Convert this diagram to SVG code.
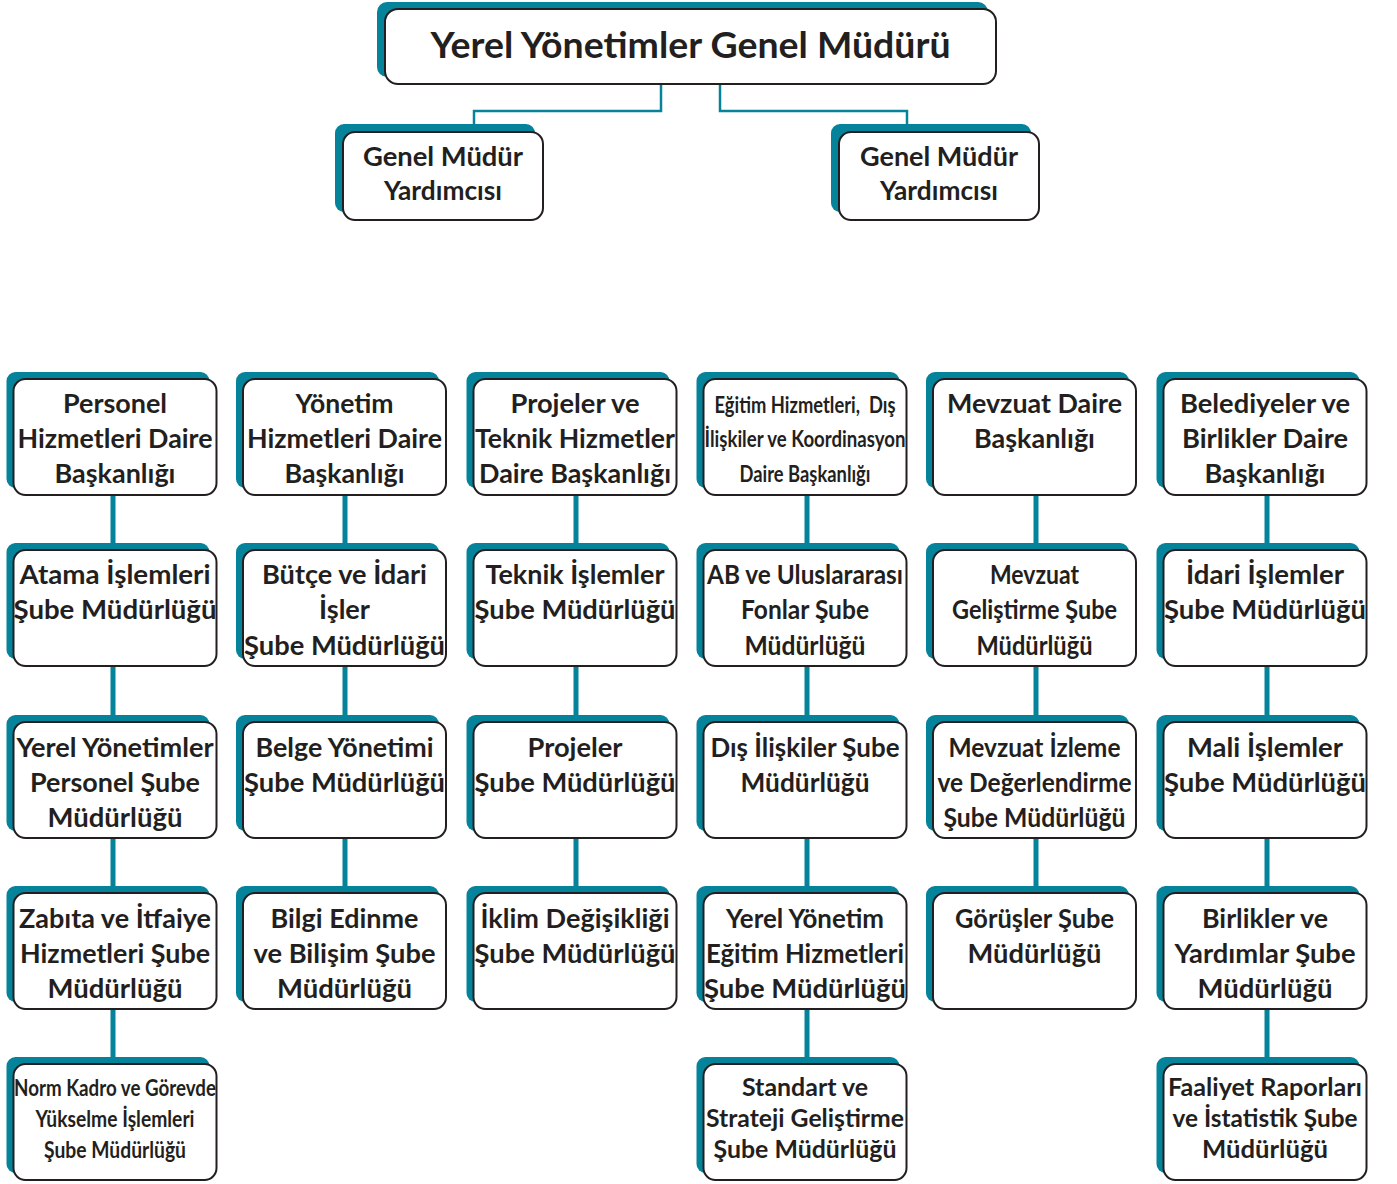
<svg xmlns="http://www.w3.org/2000/svg" width="1397" height="1184" viewBox="0 0 1397 1184">
<style>
.sh{fill:#05839b}
.bx{fill:#fff;stroke:#231f20;stroke-width:2}
.t{font-family:Lato,"Open Sans","Noto Sans",sans-serif;font-weight:bold;font-size:26px;fill:#231f20;text-anchor:middle}
.s{font-size:24px}
.c{font-size:23px}
.ttl{font-size:36px}
.thin{fill:none;stroke:#05839b;stroke-width:2.5}
.thick{fill:none;stroke:#05839b;stroke-width:5}
</style>
<rect width="1397" height="1184" fill="#fff"/>
<g id="connectors">
<path class="thin" d="M661,83 V111 H474 V126"/>
<path class="thin" d="M720,83 V111 H907 V126"/>
<path class="thick" d="M113,490 V1060"/>
<path class="thick" d="M345,490 V890"/>
<path class="thick" d="M576,490 V890"/>
<path class="thick" d="M807,490 V1060"/>
<path class="thick" d="M1036,490 V890"/>
<path class="thick" d="M1267,490 V1060"/>
</g>
<g id="genel-mudur">
<rect class="sh" x="377" y="2" width="611" height="75" rx="10"/>
<rect class="bx" x="385" y="9" width="611" height="75" rx="13"/>
<text class="t ttl" x="690.5" y="58" textLength="520" lengthAdjust="spacingAndGlyphs">Yerel Yönetimler Genel Müdürü</text>
</g>
<g id="gmy-1">
<rect class="sh" x="335" y="124" width="200" height="88" rx="9"/>
<rect class="bx" x="343" y="132" width="200" height="88" rx="12"/>
<text class="t" x="443" y="166" textLength="160" lengthAdjust="spacingAndGlyphs">Genel Müdür</text>
<text class="t" x="443" y="200" textLength="118" lengthAdjust="spacingAndGlyphs">Yardımcısı</text>
</g>
<g id="gmy-2">
<rect class="sh" x="831" y="124" width="200" height="88" rx="9"/>
<rect class="bx" x="839" y="132" width="200" height="88" rx="12"/>
<text class="t" x="939" y="166" textLength="158" lengthAdjust="spacingAndGlyphs">Genel Müdür</text>
<text class="t" x="939" y="200" textLength="118" lengthAdjust="spacingAndGlyphs">Yardımcısı</text>
</g>

<!-- Column 1 -->
<g id="c1r1"><rect class="sh" x="6.5" y="372" width="203" height="116" rx="9"/><rect class="bx" x="13.5" y="379" width="203" height="116" rx="12"/>
<text class="t" x="115" y="413" textLength="104" lengthAdjust="spacingAndGlyphs">Personel</text>
<text class="t" x="115" y="448" textLength="195" lengthAdjust="spacingAndGlyphs">Hizmetleri Daire</text>
<text class="t" x="115" y="483" textLength="121" lengthAdjust="spacingAndGlyphs">Başkanlığı</text></g>
<g id="c1r2"><rect class="sh" x="6.5" y="543" width="203" height="116" rx="9"/><rect class="bx" x="13.5" y="550" width="203" height="116" rx="12"/>
<text class="t" x="115" y="584" textLength="191" lengthAdjust="spacingAndGlyphs">Atama İşlemleri</text>
<text class="t" x="115" y="619" textLength="203" lengthAdjust="spacingAndGlyphs">Şube Müdürlüğü</text></g>
<g id="c1r3"><rect class="sh" x="6.5" y="715" width="203" height="116" rx="9"/><rect class="bx" x="13.5" y="722" width="203" height="116" rx="12"/>
<text class="t" x="115" y="757" textLength="197" lengthAdjust="spacingAndGlyphs">Yerel Yönetimler</text>
<text class="t" x="115" y="792" textLength="170" lengthAdjust="spacingAndGlyphs">Personel Şube</text>
<text class="t" x="115" y="827" textLength="135" lengthAdjust="spacingAndGlyphs">Müdürlüğü</text></g>
<g id="c1r4"><rect class="sh" x="6.5" y="886" width="203" height="116" rx="9"/><rect class="bx" x="13.5" y="893" width="203" height="116" rx="12"/>
<text class="t" x="115" y="928" textLength="192" lengthAdjust="spacingAndGlyphs">Zabıta ve İtfaiye</text>
<text class="t" x="115" y="963" textLength="190" lengthAdjust="spacingAndGlyphs">Hizmetleri Şube</text>
<text class="t" x="115" y="998" textLength="135" lengthAdjust="spacingAndGlyphs">Müdürlüğü</text></g>
<g id="c1r5"><rect class="sh" x="6.5" y="1057" width="203" height="116" rx="9"/><rect class="bx" x="13.5" y="1064" width="203" height="116" rx="12"/>
<text class="t c" x="115" y="1096" textLength="202" lengthAdjust="spacingAndGlyphs">Norm Kadro ve Görevde</text>
<text class="t c" x="115" y="1127" textLength="159" lengthAdjust="spacingAndGlyphs">Yükselme İşlemleri</text>
<text class="t c" x="115" y="1158" textLength="142" lengthAdjust="spacingAndGlyphs">Şube Müdürlüğü</text></g>

<!-- Column 2 -->
<g id="c2r1"><rect class="sh" x="236" y="372" width="203" height="116" rx="9"/><rect class="bx" x="243" y="379" width="203" height="116" rx="12"/>
<text class="t" x="344.5" y="413" textLength="98" lengthAdjust="spacingAndGlyphs">Yönetim</text>
<text class="t" x="344.5" y="448" textLength="195" lengthAdjust="spacingAndGlyphs">Hizmetleri Daire</text>
<text class="t" x="344.5" y="483" textLength="120" lengthAdjust="spacingAndGlyphs">Başkanlığı</text></g>
<g id="c2r2"><rect class="sh" x="236" y="543" width="203" height="116" rx="9"/><rect class="bx" x="243" y="550" width="203" height="116" rx="12"/>
<text class="t" x="344.5" y="584" textLength="165" lengthAdjust="spacingAndGlyphs">Bütçe ve İdari</text>
<text class="t" x="344.5" y="619" textLength="51" lengthAdjust="spacingAndGlyphs">İşler</text>
<text class="t" x="344.5" y="655" textLength="201" lengthAdjust="spacingAndGlyphs">Şube Müdürlüğü</text></g>
<g id="c2r3"><rect class="sh" x="236" y="715" width="203" height="116" rx="9"/><rect class="bx" x="243" y="722" width="203" height="116" rx="12"/>
<text class="t" x="344.5" y="757" textLength="178" lengthAdjust="spacingAndGlyphs">Belge Yönetimi</text>
<text class="t" x="344.5" y="792" textLength="201" lengthAdjust="spacingAndGlyphs">Şube Müdürlüğü</text></g>
<g id="c2r4"><rect class="sh" x="236" y="886" width="203" height="116" rx="9"/><rect class="bx" x="243" y="893" width="203" height="116" rx="12"/>
<text class="t" x="344.5" y="928" textLength="148" lengthAdjust="spacingAndGlyphs">Bilgi Edinme</text>
<text class="t" x="344.5" y="963" textLength="182" lengthAdjust="spacingAndGlyphs">ve Bilişim Şube</text>
<text class="t" x="344.5" y="998" textLength="135" lengthAdjust="spacingAndGlyphs">Müdürlüğü</text></g>

<!-- Column 3 -->
<g id="c3r1"><rect class="sh" x="466.5" y="372" width="203" height="116" rx="9"/><rect class="bx" x="473.5" y="379" width="203" height="116" rx="12"/>
<text class="t" x="575" y="413" textLength="129" lengthAdjust="spacingAndGlyphs">Projeler ve</text>
<text class="t" x="575" y="448" textLength="200" lengthAdjust="spacingAndGlyphs">Teknik Hizmetler</text>
<text class="t" x="575" y="483" textLength="192" lengthAdjust="spacingAndGlyphs">Daire Başkanlığı</text></g>
<g id="c3r2"><rect class="sh" x="466.5" y="543" width="203" height="116" rx="9"/><rect class="bx" x="473.5" y="550" width="203" height="116" rx="12"/>
<text class="t" x="575" y="584" textLength="179" lengthAdjust="spacingAndGlyphs">Teknik İşlemler</text>
<text class="t" x="575" y="619" textLength="201" lengthAdjust="spacingAndGlyphs">Şube Müdürlüğü</text></g>
<g id="c3r3"><rect class="sh" x="466.5" y="715" width="203" height="116" rx="9"/><rect class="bx" x="473.5" y="722" width="203" height="116" rx="12"/>
<text class="t" x="575" y="757" textLength="95" lengthAdjust="spacingAndGlyphs">Projeler</text>
<text class="t" x="575" y="792" textLength="201" lengthAdjust="spacingAndGlyphs">Şube Müdürlüğü</text></g>
<g id="c3r4"><rect class="sh" x="466.5" y="886" width="203" height="116" rx="9"/><rect class="bx" x="473.5" y="893" width="203" height="116" rx="12"/>
<text class="t" x="575" y="928" textLength="189" lengthAdjust="spacingAndGlyphs">İklim Değişikliği</text>
<text class="t" x="575" y="963" textLength="201" lengthAdjust="spacingAndGlyphs">Şube Müdürlüğü</text></g>

<!-- Column 4 -->
<g id="c4r1"><rect class="sh" x="696.5" y="372" width="203" height="116" rx="9"/><rect class="bx" x="703.5" y="379" width="203" height="116" rx="12"/>
<text class="t c" x="805" y="413" textLength="181" lengthAdjust="spacingAndGlyphs" style="white-space:pre">Eğitim Hizmetleri,  Dış</text>
<text class="t c" x="805" y="447" textLength="201" lengthAdjust="spacingAndGlyphs">İlişkiler ve Koordinasyon</text>
<text class="t c" x="805" y="482" textLength="131" lengthAdjust="spacingAndGlyphs">Daire Başkanlığı</text></g>
<g id="c4r2"><rect class="sh" x="696.5" y="543" width="203" height="116" rx="9"/><rect class="bx" x="703.5" y="550" width="203" height="116" rx="12"/>
<text class="t" x="805" y="584" textLength="196" lengthAdjust="spacingAndGlyphs">AB ve Uluslararası</text>
<text class="t" x="805" y="619" textLength="128" lengthAdjust="spacingAndGlyphs">Fonlar Şube</text>
<text class="t" x="805" y="655" textLength="121" lengthAdjust="spacingAndGlyphs">Müdürlüğü</text></g>
<g id="c4r3"><rect class="sh" x="696.5" y="715" width="203" height="116" rx="9"/><rect class="bx" x="703.5" y="722" width="203" height="116" rx="12"/>
<text class="t" x="805" y="757" textLength="189" lengthAdjust="spacingAndGlyphs">Dış İlişkiler Şube</text>
<text class="t" x="805" y="792" textLength="129" lengthAdjust="spacingAndGlyphs">Müdürlüğü</text></g>
<g id="c4r4"><rect class="sh" x="696.5" y="886" width="203" height="116" rx="9"/><rect class="bx" x="703.5" y="893" width="203" height="116" rx="12"/>
<text class="t" x="805" y="928" textLength="158" lengthAdjust="spacingAndGlyphs">Yerel Yönetim</text>
<text class="t" x="805" y="963" textLength="198" lengthAdjust="spacingAndGlyphs">Eğitim Hizmetleri</text>
<text class="t" x="805" y="998" textLength="202" lengthAdjust="spacingAndGlyphs">Şube Müdürlüğü</text></g>
<g id="c4r5"><rect class="sh" x="696.5" y="1057" width="203" height="116" rx="9"/><rect class="bx" x="703.5" y="1064" width="203" height="116" rx="12"/>
<text class="t s" x="805" y="1096" textLength="126" lengthAdjust="spacingAndGlyphs">Standart ve</text>
<text class="t s" x="805" y="1127" textLength="198" lengthAdjust="spacingAndGlyphs">Strateji Geliştirme</text>
<text class="t s" x="805" y="1158" textLength="183" lengthAdjust="spacingAndGlyphs">Şube Müdürlüğü</text></g>

<!-- Column 5 -->
<g id="c5r1"><rect class="sh" x="926" y="372" width="203" height="116" rx="9"/><rect class="bx" x="933" y="379" width="203" height="116" rx="12"/>
<text class="t" x="1034.5" y="413" textLength="175" lengthAdjust="spacingAndGlyphs">Mevzuat Daire</text>
<text class="t" x="1034.5" y="448" textLength="121" lengthAdjust="spacingAndGlyphs">Başkanlığı</text></g>
<g id="c5r2"><rect class="sh" x="926" y="543" width="203" height="116" rx="9"/><rect class="bx" x="933" y="550" width="203" height="116" rx="12"/>
<text class="t" x="1034.5" y="584" textLength="89" lengthAdjust="spacingAndGlyphs">Mevzuat</text>
<text class="t" x="1034.5" y="619" textLength="165" lengthAdjust="spacingAndGlyphs">Geliştirme Şube</text>
<text class="t" x="1034.5" y="655" textLength="116" lengthAdjust="spacingAndGlyphs">Müdürlüğü</text></g>
<g id="c5r3"><rect class="sh" x="926" y="715" width="203" height="116" rx="9"/><rect class="bx" x="933" y="722" width="203" height="116" rx="12"/>
<text class="t" x="1034.5" y="757" textLength="172" lengthAdjust="spacingAndGlyphs">Mevzuat İzleme</text>
<text class="t" x="1034.5" y="792" textLength="194" lengthAdjust="spacingAndGlyphs">ve Değerlendirme</text>
<text class="t" x="1034.5" y="827" textLength="182" lengthAdjust="spacingAndGlyphs">Şube Müdürlüğü</text></g>
<g id="c5r4"><rect class="sh" x="926" y="886" width="203" height="116" rx="9"/><rect class="bx" x="933" y="893" width="203" height="116" rx="12"/>
<text class="t" x="1034.5" y="928" textLength="159" lengthAdjust="spacingAndGlyphs">Görüşler Şube</text>
<text class="t" x="1034.5" y="963" textLength="134" lengthAdjust="spacingAndGlyphs">Müdürlüğü</text></g>

<!-- Column 6 -->
<g id="c6r1"><rect class="sh" x="1156.5" y="372" width="203" height="116" rx="9"/><rect class="bx" x="1163.5" y="379" width="203" height="116" rx="12"/>
<text class="t" x="1265" y="413" textLength="170" lengthAdjust="spacingAndGlyphs">Belediyeler ve</text>
<text class="t" x="1265" y="448" textLength="166" lengthAdjust="spacingAndGlyphs">Birlikler Daire</text>
<text class="t" x="1265" y="483" textLength="121" lengthAdjust="spacingAndGlyphs">Başkanlığı</text></g>
<g id="c6r2"><rect class="sh" x="1156.5" y="543" width="203" height="116" rx="9"/><rect class="bx" x="1163.5" y="550" width="203" height="116" rx="12"/>
<text class="t" x="1265" y="584" textLength="158" lengthAdjust="spacingAndGlyphs">İdari İşlemler</text>
<text class="t" x="1265" y="619" textLength="202" lengthAdjust="spacingAndGlyphs">Şube Müdürlüğü</text></g>
<g id="c6r3"><rect class="sh" x="1156.5" y="715" width="203" height="116" rx="9"/><rect class="bx" x="1163.5" y="722" width="203" height="116" rx="12"/>
<text class="t" x="1265" y="757" textLength="156" lengthAdjust="spacingAndGlyphs">Mali İşlemler</text>
<text class="t" x="1265" y="792" textLength="202" lengthAdjust="spacingAndGlyphs">Şube Müdürlüğü</text></g>
<g id="c6r4"><rect class="sh" x="1156.5" y="886" width="203" height="116" rx="9"/><rect class="bx" x="1163.5" y="893" width="203" height="116" rx="12"/>
<text class="t" x="1265" y="928" textLength="126" lengthAdjust="spacingAndGlyphs">Birlikler ve</text>
<text class="t" x="1265" y="963" textLength="181" lengthAdjust="spacingAndGlyphs">Yardımlar Şube</text>
<text class="t" x="1265" y="998" textLength="135" lengthAdjust="spacingAndGlyphs">Müdürlüğü</text></g>
<g id="c6r5"><rect class="sh" x="1156.5" y="1057" width="203" height="116" rx="9"/><rect class="bx" x="1163.5" y="1064" width="203" height="116" rx="12"/>
<text class="t s" x="1265" y="1096" textLength="194" lengthAdjust="spacingAndGlyphs">Faaliyet Raporları</text>
<text class="t s" x="1265" y="1127" textLength="185" lengthAdjust="spacingAndGlyphs">ve İstatistik Şube</text>
<text class="t s" x="1265" y="1158" textLength="126" lengthAdjust="spacingAndGlyphs">Müdürlüğü</text></g>
</svg>
